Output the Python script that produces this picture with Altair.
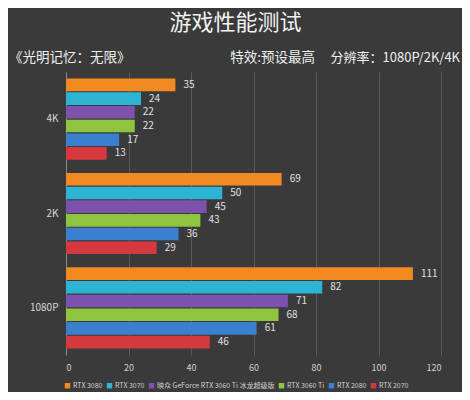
import altair as alt
import pandas as pd

resolutions = ["4K", "2K", "1080P"]
series = ["RTX 3080", "RTX 3070", "映众 GeForce RTX 3060 Ti 冰龙超级版", "RTX 3060 Ti", "RTX 2080", "RTX 2070"]
colors = ["#f28a22", "#2db3d3", "#7c52ac", "#8fc440", "#3b7fcf", "#d6393d"]
values = {
    "4K": [35, 24, 22, 22, 17, 13],
    "2K": [69, 50, 45, 43, 36, 29],
    "1080P": [111, 82, 71, 68, 61, 46],
}
x_ticks = [0, 20, 40, 60, 80, 100, 120]

rows = []
for r in resolutions:
    for s, v in zip(series, values[r]):
        rows.append({"res": r, "card": s, "fps": v})
df = pd.DataFrame(rows)

font = "Noto Sans CJK SC"

y_enc = alt.Y("res:N", sort=resolutions, title=None,
              scale=alt.Scale(paddingInner=0.14, paddingOuter=0.07),
              axis=alt.Axis(labelColor="#d8d8d8", labelFontSize=10, labelFont=font,
                            ticks=False, domainColor="#8a8a8a", labelPadding=8,
                            grid=False))
yoff = alt.YOffset("card:N", sort=series, scale=alt.Scale(paddingInner=0.08))
x_enc = alt.X("fps:Q", title=None,
              scale=alt.Scale(domain=[0, 120], nice=False),
              axis=alt.Axis(values=x_ticks, labelColor="#d0d0d0", labelFontSize=9,
                            labelFont=font, ticks=False, domain=False,
                            gridColor="#5a5a5a", labelPadding=8))

bars = alt.Chart(df).mark_bar(cornerRadius=0).encode(
    x=x_enc, y=y_enc, yOffset=yoff,
    color=alt.Color("card:N", sort=series,
                    scale=alt.Scale(domain=series, range=colors),
                    legend=alt.Legend(orient="none", legendX=-2, legendY=310,
                                      direction="horizontal", title=None,
                                      symbolType="square", symbolSize=30,
                                      labelFontSize=7, labelFont=font,
                                      labelColor="#d0d0d0", columnPadding=3,
                                      symbolOffset=0, labelOffset=2,
                                      symbolStrokeWidth=0)),
)

labels = alt.Chart(df).mark_text(align="left", baseline="middle", dx=8,
                                 color="#e0e0e0", fontSize=10, font=font).encode(
    x="fps:Q", y=alt.Y("res:N", sort=resolutions), yOffset=yoff, text="fps:Q")

ann = pd.DataFrame({"t": ["《光明记忆：无限》", "特效:预设最高", "分辨率：1080P/2K/4K"]})
left_txt = alt.Chart(ann.iloc[[0]]).mark_text(align="left", baseline="middle",
                                             color="#f0f0f0", fontSize=13.5, font=font).encode(
    text="t:N", x=alt.value(-57), y=alt.value(-14))
mid_txt = alt.Chart(ann.iloc[[1]]).mark_text(align="right", baseline="middle",
                                            color="#f0f0f0", fontSize=13.5, font=font).encode(
    text="t:N", x=alt.value(249), y=alt.value(-14))
right_txt = alt.Chart(ann.iloc[[2]]).mark_text(align="right", baseline="middle",
                                              color="#f0f0f0", fontSize=13, font=font).encode(
    text="t:N", x=alt.value(394), y=alt.value(-14))

chart = alt.layer(bars, labels, left_txt, mid_txt, right_txt).properties(
    width=375, height=283,
    padding={"left": 58, "top": 64, "right": 21, "bottom": 37},
    autosize=alt.AutoSizeParams(type="none"),
    background="#3a3a3a",
    title=alt.TitleParams("游戏性能测试", fontSize=22, color="#f2f2f2", font=font,
                          fontWeight="normal", anchor="middle", dx=-18, offset=16),
).configure_view(stroke=None)

chart.save("out.html", embed_options={"renderer": "svg", "actions": False})
